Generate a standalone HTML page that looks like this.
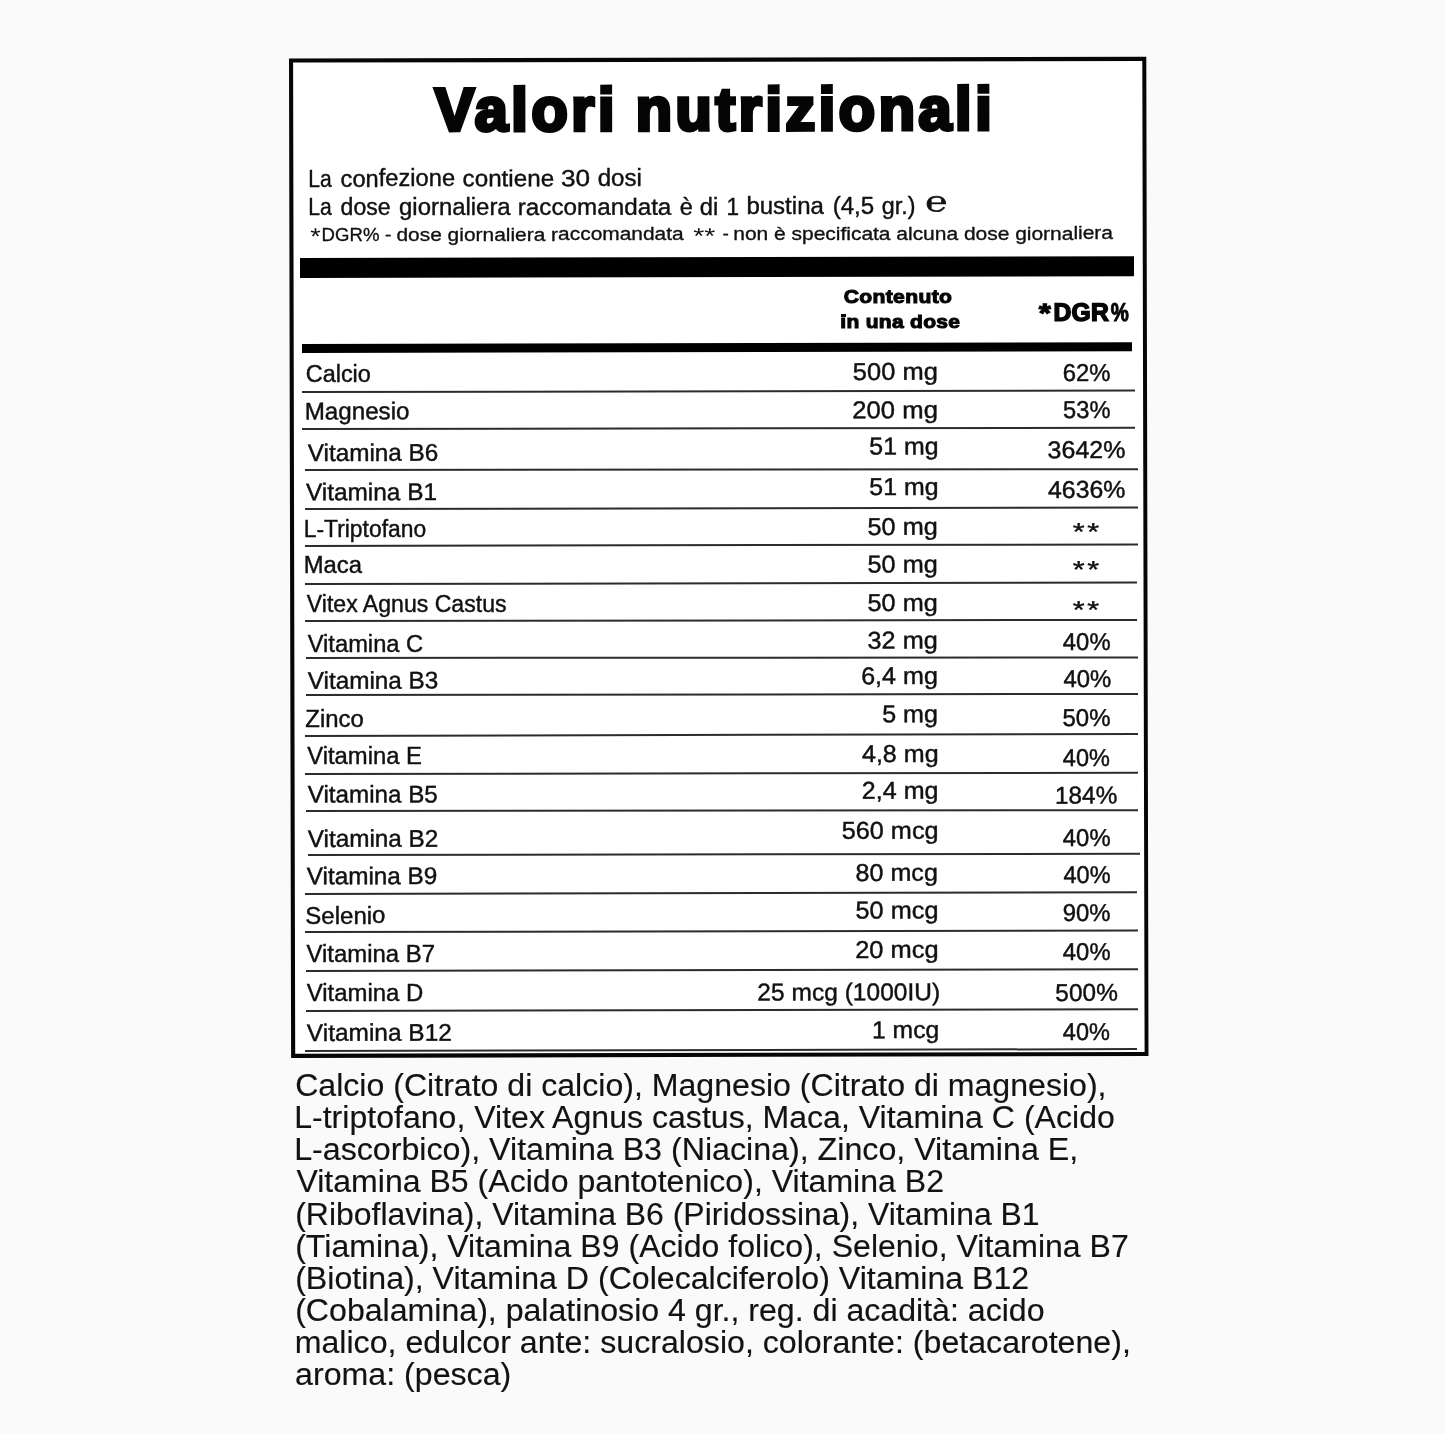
<!DOCTYPE html>
<html lang="it"><head><meta charset="utf-8"><title>Valori nutrizionali</title>
<style>
html,body{margin:0;padding:0;overflow:hidden}
body{width:1445px;height:1445px;position:relative;overflow:hidden;background:#fafafa;font-family:"Liberation Sans",sans-serif;}
.fr{position:absolute;left:0;top:0}
.r{position:absolute;transform-origin:0 0}
.t{position:absolute;left:0;top:0;margin:0;padding:0;font:400 100px/normal "Liberation Sans",sans-serif;color:#111;white-space:pre;transform-origin:0 0;display:block}
.b{font-weight:700}
.s{font-family:"Liberation Serif",serif}
#pg{position:absolute;left:0;top:0;width:1445px;height:1445px;overflow:hidden;will-change:transform}
</style></head><body><div id="pg">
<svg class="fr" width="1445" height="1445" viewBox="0 0 1445 1445"><path fill="#fff" d="M289 58.5L1146.3 56.8L1148.5 1055.9L291.1 1058Z"/><path fill="#060606" fill-rule="evenodd" d="M289 58.5L1146.3 56.8L1148.5 1055.9L291.1 1058Z M293.1 62.6L1142.3 60.9L1144.6 1051.9L295.2 1053.7Z"/></svg>
<div class="r" style="left:0.00px;top:1433.50px;width:1445.00px;height:11.50px;background:#fff;transform:rotate(0.00000rad);"></div>
<div class="r" style="left:841.00px;top:314.00px;width:4.70px;height:3.10px;background:#050505;transform:rotate(-0.00201rad);"></div>
<div class="r" style="left:300.00px;top:258.10px;width:834.40px;height:20.20px;background:#000;transform:rotate(-0.00201rad);"></div>
<div class="r" style="left:302.40px;top:343.90px;width:830.00px;height:9.10px;background:#000;transform:rotate(-0.00201rad);"></div>
<div class="r" style="left:301.80px;top:390.55px;width:832.70px;height:1.50px;background:#2c2c2c;transform:rotate(-0.00168rad);"></div>
<div class="r" style="left:302.00px;top:428.45px;width:832.50px;height:1.50px;background:#2c2c2c;transform:rotate(-0.00156rad);"></div>
<div class="r" style="left:305.30px;top:469.15px;width:832.50px;height:1.50px;background:#2c2c2c;transform:rotate(-0.00096rad);"></div>
<div class="r" style="left:305.30px;top:508.35px;width:832.50px;height:1.50px;background:#2c2c2c;transform:rotate(-0.00168rad);"></div>
<div class="r" style="left:305.00px;top:545.25px;width:833.20px;height:1.50px;background:#2c2c2c;transform:rotate(-0.00192rad);"></div>
<div class="r" style="left:305.00px;top:583.05px;width:832.40px;height:1.50px;background:#2c2c2c;transform:rotate(-0.00180rad);"></div>
<div class="r" style="left:305.30px;top:620.25px;width:832.10px;height:1.50px;background:#2c2c2c;transform:rotate(-0.00132rad);"></div>
<div class="r" style="left:305.80px;top:657.35px;width:832.40px;height:1.50px;background:#2c2c2c;transform:rotate(-0.00072rad);"></div>
<div class="r" style="left:305.80px;top:694.35px;width:832.40px;height:1.50px;background:#2c2c2c;transform:rotate(-0.00132rad);"></div>
<div class="r" style="left:305.00px;top:734.55px;width:833.00px;height:1.50px;background:#2c2c2c;transform:rotate(-0.00252rad);"></div>
<div class="r" style="left:305.30px;top:772.75px;width:832.70px;height:1.50px;background:#2c2c2c;transform:rotate(-0.00156rad);"></div>
<div class="r" style="left:305.80px;top:810.35px;width:832.20px;height:1.50px;background:#2c2c2c;transform:rotate(-0.00096rad);"></div>
<div class="r" style="left:308.30px;top:853.75px;width:831.70px;height:1.50px;background:#2c2c2c;transform:rotate(-0.00156rad);"></div>
<div class="r" style="left:305.30px;top:892.85px;width:832.10px;height:1.50px;background:#2c2c2c;transform:rotate(-0.00204rad);"></div>
<div class="r" style="left:305.30px;top:931.35px;width:832.50px;height:1.50px;background:#2c2c2c;transform:rotate(-0.00168rad);"></div>
<div class="r" style="left:305.80px;top:970.35px;width:832.40px;height:1.50px;background:#2c2c2c;transform:rotate(-0.00204rad);"></div>
<div class="r" style="left:305.80px;top:1010.25px;width:832.00px;height:1.50px;background:#2c2c2c;transform:rotate(-0.00204rad);"></div>
<div class="r" style="left:305.00px;top:1049.95px;width:832.10px;height:1.50px;background:#2c2c2c;transform:rotate(-0.00228rad);"></div>
<span class="t b" style="transform:matrix(0.59392,-0.00119,0.00121,0.60319,434.757,75.105);-webkit-text-stroke:6.30px #050505;color:#050505;letter-spacing:6.00px;word-spacing:-4.00px;">Valori nutrizionali</span>
<span class="t" style="transform:matrix(0.21087,-0.00042,0.00047,0.23262,308.189,165.236);-webkit-text-stroke:1.70px #111;">La</span>
<span class="t" style="transform:matrix(0.23671,-0.00048,0.00047,0.23262,340.519,165.172);-webkit-text-stroke:1.70px #111;">confezione</span>
<span class="t" style="transform:matrix(0.24235,-0.00049,0.00047,0.23262,462.506,164.928);-webkit-text-stroke:1.70px #111;">contiene</span>
<span class="t" style="transform:matrix(0.26184,-0.00053,0.00047,0.23262,560.861,164.731);-webkit-text-stroke:1.70px #111;">30</span>
<span class="t" style="transform:matrix(0.24112,-0.00048,0.00047,0.23262,597.609,164.658);-webkit-text-stroke:1.70px #111;">dosi</span>
<span class="t" style="transform:matrix(0.21087,-0.00042,0.00047,0.23262,308.189,193.936);-webkit-text-stroke:1.70px #111;">La</span>
<span class="t" style="transform:matrix(0.23040,-0.00046,0.00047,0.23262,340.533,193.872);-webkit-text-stroke:1.70px #111;">dose</span>
<span class="t" style="transform:matrix(0.23898,-0.00048,0.00047,0.23262,399.013,193.755);-webkit-text-stroke:1.70px #111;">giornaliera</span>
<span class="t" style="transform:matrix(0.24231,-0.00049,0.00047,0.23262,517.749,193.517);-webkit-text-stroke:1.70px #111;">raccomandata</span>
<span class="t" style="transform:matrix(0.23535,-0.00047,0.00047,0.23262,679.822,193.193);-webkit-text-stroke:1.70px #111;">è</span>
<span class="t" style="transform:matrix(0.23777,-0.00048,0.00047,0.23262,699.716,193.153);-webkit-text-stroke:1.70px #111;">di</span>
<span class="t" style="transform:matrix(0.22547,-0.00045,0.00047,0.23262,726.440,193.100);-webkit-text-stroke:1.70px #111;">1</span>
<span class="t" style="transform:matrix(0.24015,-0.00048,0.00047,0.23262,746.360,193.060);-webkit-text-stroke:1.70px #111;">bustina</span>
<span class="t" style="transform:matrix(0.24081,-0.00048,0.00047,0.23262,832.633,192.888);-webkit-text-stroke:1.70px #111;">(4,5</span>
<span class="t" style="transform:matrix(0.23353,-0.00047,0.00047,0.23262,881.826,192.789);-webkit-text-stroke:1.70px #111;">gr.)</span>
<span class="t" style="transform:matrix(0.26713,-0.00054,0.00047,0.23200,310.256,223.001);">*</span>
<span class="t" style="transform:matrix(0.18601,-0.00037,0.00036,0.18130,321.581,224.341);-webkit-text-stroke:1.80px #111;">DGR%</span>
<span class="t" style="transform:matrix(0.19039,-0.00038,0.00036,0.18130,384.843,224.339);-webkit-text-stroke:1.80px #111;">-</span>
<span class="t" style="transform:matrix(0.20920,-0.00042,0.00038,0.18838,396.400,223.488);-webkit-text-stroke:1.80px #111;">dose giornaliera raccomandata</span>
<span class="t" style="transform:matrix(0.28456,-0.00057,0.00045,0.22667,693.229,222.912);">**</span>
<span class="t" style="transform:matrix(0.19039,-0.00038,0.00036,0.18130,722.343,223.539);-webkit-text-stroke:1.80px #111;">-</span>
<span class="t" style="transform:matrix(0.20951,-0.00042,0.00038,0.18838,733.244,222.840);-webkit-text-stroke:1.80px #111;">non è specificata alcuna dose giornaliera</span>
<span class="t s" style="transform:matrix(0.36135,-0.00073,0.00057,0.28186,925.470,185.682);-webkit-text-stroke:2.50px #111;">℮</span>
<span class="t b" style="transform:matrix(0.21133,-0.00042,0.00038,0.19086,843.695,285.597);-webkit-text-stroke:5.60px #050505;color:#050505;letter-spacing:1.50px;">Contenuto</span>
<span class="t b" style="transform:matrix(0.20970,-0.00042,0.00038,0.18817,840.241,311.051);-webkit-text-stroke:5.60px #050505;color:#050505;letter-spacing:1.50px;">ın una dose</span>
<span class="t b" style="transform:matrix(0.30184,-0.00061,0.00053,0.26326,1038.922,297.810);-webkit-text-stroke:5.00px #050505;color:#050505;">*</span>
<span class="t b" style="transform:matrix(0.24678,-0.00050,0.00050,0.25134,1053.451,297.676);-webkit-text-stroke:6.00px #050505;color:#050505;letter-spacing:1.00px;">DGR</span>
<span class="t b" style="transform:matrix(0.20347,-0.00041,0.00052,0.25824,1110.741,297.183);-webkit-text-stroke:4.00px #050505;color:#050505;">%</span>
<span class="t" style="transform:matrix(0.23437,-0.00047,0.00048,0.24079,305.668,359.873);-webkit-text-stroke:1.80px #111;">Calcio</span>
<span class="t" style="transform:matrix(0.24201,-0.00049,0.00048,0.24079,304.583,397.275);-webkit-text-stroke:1.80px #111;">Magnesio</span>
<span class="t" style="transform:matrix(0.24294,-0.00049,0.00048,0.24079,307.674,438.871);-webkit-text-stroke:1.80px #111;">Vitamina B6</span>
<span class="t" style="transform:matrix(0.24369,-0.00049,0.00048,0.24079,305.975,478.171);-webkit-text-stroke:1.80px #111;">Vitamina B1</span>
<span class="t" style="transform:matrix(0.22859,-0.00046,0.00048,0.24079,303.675,514.774);-webkit-text-stroke:1.80px #111;">L-Triptofano</span>
<span class="t" style="transform:matrix(0.23834,-0.00048,0.00048,0.24079,303.608,551.274);-webkit-text-stroke:1.80px #111;">Maca</span>
<span class="t" style="transform:matrix(0.23082,-0.00046,0.00048,0.24079,306.763,589.971);-webkit-text-stroke:1.80px #111;">Vitex Agnus Castus</span>
<span class="t" style="transform:matrix(0.23703,-0.00048,0.00048,0.24079,307.669,629.971);-webkit-text-stroke:1.80px #111;">Vitamina C</span>
<span class="t" style="transform:matrix(0.24294,-0.00049,0.00048,0.24079,307.674,666.671);-webkit-text-stroke:1.80px #111;">Vitamina B3</span>
<span class="t" style="transform:matrix(0.23959,-0.00048,0.00048,0.24079,305.222,704.872);-webkit-text-stroke:1.80px #111;">Zinco</span>
<span class="t" style="transform:matrix(0.23824,-0.00048,0.00048,0.24079,307.170,742.271);-webkit-text-stroke:1.80px #111;">Vitamina E</span>
<span class="t" style="transform:matrix(0.24201,-0.00049,0.00048,0.24079,307.673,780.471);-webkit-text-stroke:1.80px #111;">Vitamina B5</span>
<span class="t" style="transform:matrix(0.24294,-0.00049,0.00048,0.24079,307.674,824.771);-webkit-text-stroke:1.80px #111;">Vitamina B2</span>
<span class="t" style="transform:matrix(0.24276,-0.00049,0.00048,0.24079,306.774,862.171);-webkit-text-stroke:1.80px #111;">Vitamina B9</span>
<span class="t" style="transform:matrix(0.24039,-0.00048,0.00048,0.24079,305.221,901.472);-webkit-text-stroke:1.80px #111;">Selenio</span>
<span class="t" style="transform:matrix(0.23902,-0.00048,0.00048,0.24079,306.471,939.871);-webkit-text-stroke:1.80px #111;">Vitamina B7</span>
<span class="t" style="transform:matrix(0.23888,-0.00048,0.00048,0.24079,306.771,979.271);-webkit-text-stroke:1.80px #111;">Vitamina D</span>
<span class="t" style="transform:matrix(0.24462,-0.00049,0.00048,0.24079,306.776,1018.771);-webkit-text-stroke:1.80px #111;">Vitamina B12</span>
<span class="t" style="transform:matrix(0.25535,-0.00051,0.00049,0.24363,852.687,357.512);-webkit-text-stroke:1.80px #111;">500 mg</span>
<span class="t" style="transform:matrix(0.25658,-0.00051,0.00049,0.24363,852.283,395.813);-webkit-text-stroke:1.80px #111;">200 mg</span>
<span class="t" style="transform:matrix(0.24909,-0.00050,0.00049,0.24363,869.301,432.112);-webkit-text-stroke:1.80px #111;">51 mg</span>
<span class="t" style="transform:matrix(0.24909,-0.00050,0.00049,0.24363,869.301,472.612);-webkit-text-stroke:1.80px #111;">51 mg</span>
<span class="t" style="transform:matrix(0.25315,-0.00051,0.00049,0.24363,867.492,512.512);-webkit-text-stroke:1.80px #111;">50 mg</span>
<span class="t" style="transform:matrix(0.25315,-0.00051,0.00049,0.24363,867.492,550.112);-webkit-text-stroke:1.80px #111;">50 mg</span>
<span class="t" style="transform:matrix(0.25315,-0.00051,0.00049,0.24363,867.492,588.612);-webkit-text-stroke:1.80px #111;">50 mg</span>
<span class="t" style="transform:matrix(0.25315,-0.00051,0.00049,0.24363,867.492,626.212);-webkit-text-stroke:1.80px #111;">32 mg</span>
<span class="t" style="transform:matrix(0.25100,-0.00050,0.00049,0.24363,861.104,661.713);-webkit-text-stroke:1.80px #111;">6,4 mg</span>
<span class="t" style="transform:matrix(0.25073,-0.00050,0.00049,0.24363,882.097,699.812);-webkit-text-stroke:1.80px #111;">5 mg</span>
<span class="t" style="transform:matrix(0.25072,-0.00050,0.00049,0.24363,861.889,739.611);-webkit-text-stroke:1.80px #111;">4,8 mg</span>
<span class="t" style="transform:matrix(0.25100,-0.00050,0.00049,0.24363,861.804,776.413);-webkit-text-stroke:1.80px #111;">2,4 mg</span>
<span class="t" style="transform:matrix(0.25278,-0.00051,0.00049,0.24363,841.593,816.412);-webkit-text-stroke:1.80px #111;">560 mcg</span>
<span class="t" style="transform:matrix(0.25110,-0.00050,0.00049,0.24363,855.496,858.512);-webkit-text-stroke:1.80px #111;">80 mcg</span>
<span class="t" style="transform:matrix(0.25328,-0.00051,0.00049,0.24363,855.492,896.112);-webkit-text-stroke:1.80px #111;">50 mcg</span>
<span class="t" style="transform:matrix(0.25452,-0.00051,0.00049,0.24363,855.091,935.513);-webkit-text-stroke:1.80px #111;">20 mcg</span>
<span class="t" style="transform:matrix(0.24541,-0.00049,0.00049,0.24363,757.326,978.113);-webkit-text-stroke:1.80px #111;">25 mcg (1000IU)</span>
<span class="t" style="transform:matrix(0.24747,-0.00050,0.00049,0.24363,871.831,1015.713);-webkit-text-stroke:1.80px #111;">1 mcg</span>
<span class="t" style="transform:matrix(0.23934,-0.00048,0.00049,0.24363,1062.649,358.613);-webkit-text-stroke:1.80px #111;">62%</span>
<span class="t" style="transform:matrix(0.23743,-0.00048,0.00049,0.24363,1063.027,395.812);-webkit-text-stroke:1.80px #111;">53%</span>
<span class="t" style="transform:matrix(0.25043,-0.00050,0.00049,0.24363,1047.498,435.712);-webkit-text-stroke:1.80px #111;">3642%</span>
<span class="t" style="transform:matrix(0.24916,-0.00050,0.00049,0.24363,1047.890,475.511);-webkit-text-stroke:1.80px #111;">4636%</span>
<span class="t" style="transform:matrix(0.30704,-0.00062,0.00050,0.24872,1072.821,517.342);-webkit-text-stroke:1.50px #111;letter-spacing:8.00px;">**</span>
<span class="t" style="transform:matrix(0.30704,-0.00062,0.00048,0.23846,1072.822,555.646);-webkit-text-stroke:1.50px #111;letter-spacing:8.00px;">**</span>
<span class="t" style="transform:matrix(0.30704,-0.00062,0.00049,0.24359,1072.822,595.544);-webkit-text-stroke:1.50px #111;letter-spacing:8.00px;">**</span>
<span class="t" style="transform:matrix(0.23859,-0.00048,0.00049,0.24363,1062.797,627.411);-webkit-text-stroke:1.80px #111;">40%</span>
<span class="t" style="transform:matrix(0.23910,-0.00048,0.00049,0.24363,1063.397,665.011);-webkit-text-stroke:1.80px #111;">40%</span>
<span class="t" style="transform:matrix(0.24050,-0.00048,0.00049,0.24363,1062.420,703.312);-webkit-text-stroke:1.80px #111;">50%</span>
<span class="t" style="transform:matrix(0.23556,-0.00047,0.00049,0.24363,1062.799,743.211);-webkit-text-stroke:1.80px #111;">40%</span>
<span class="t" style="transform:matrix(0.24362,-0.00049,0.00049,0.24363,1054.952,781.213);-webkit-text-stroke:1.80px #111;">184%</span>
<span class="t" style="transform:matrix(0.23859,-0.00048,0.00049,0.24363,1062.797,823.511);-webkit-text-stroke:1.80px #111;">40%</span>
<span class="t" style="transform:matrix(0.23556,-0.00047,0.00049,0.24363,1063.399,860.211);-webkit-text-stroke:1.80px #111;">40%</span>
<span class="t" style="transform:matrix(0.23934,-0.00048,0.00049,0.24363,1062.649,898.813);-webkit-text-stroke:1.80px #111;">90%</span>
<span class="t" style="transform:matrix(0.23859,-0.00048,0.00049,0.24363,1062.797,937.511);-webkit-text-stroke:1.80px #111;">40%</span>
<span class="t" style="transform:matrix(0.24457,-0.00049,0.00049,0.24363,1055.311,978.512);-webkit-text-stroke:1.80px #111;">500%</span>
<span class="t" style="transform:matrix(0.23556,-0.00047,0.00049,0.24363,1062.799,1017.911);-webkit-text-stroke:1.80px #111;">40%</span>
<span class="t" style="transform:matrix(0.32085,0.00000,-0.00000,0.31457,295.176,1067.095);-webkit-text-stroke:0.50px #121212;color:#121212;">Calcio (Citrato di calcio), Magnesio (Citrato di magnesio),</span>
<span class="t" style="transform:matrix(0.32074,0.00000,-0.00000,0.31457,294.174,1099.215);-webkit-text-stroke:0.50px #121212;color:#121212;">L-triptofano, Vitex Agnus castus, Maca, Vitamina C (Acido</span>
<span class="t" style="transform:matrix(0.32180,0.00000,-0.00000,0.31457,294.166,1131.335);-webkit-text-stroke:0.50px #121212;color:#121212;">L-ascorbico), Vitamina B3 (Niacina), Zinco, Vitamina E,</span>
<span class="t" style="transform:matrix(0.32066,0.00000,-0.00000,0.31457,296.380,1163.455);-webkit-text-stroke:0.50px #121212;color:#121212;">Vitamina B5 (Acido pantotenico), Vitamina B2</span>
<span class="t" style="transform:matrix(0.31941,0.00000,-0.00000,0.31457,295.183,1195.575);-webkit-text-stroke:0.50px #121212;color:#121212;">(Riboflavina), Vitamina B6 (Piridossina), Vitamina B1</span>
<span class="t" style="transform:matrix(0.32072,0.00000,-0.00000,0.31457,295.177,1227.695);-webkit-text-stroke:0.50px #121212;color:#121212;">(Tiamina), Vitamina B9 (Acido folico), Selenio, Vitamina B7</span>
<span class="t" style="transform:matrix(0.32108,0.00000,-0.00000,0.31457,295.175,1259.815);-webkit-text-stroke:0.50px #121212;color:#121212;">(Biotina), Vitamina D (Colecalciferolo) Vitamina B12</span>
<span class="t" style="transform:matrix(0.32096,0.00000,-0.00000,0.31457,295.176,1291.935);-webkit-text-stroke:0.50px #121212;color:#121212;">(Cobalamina), palatinosio 4 gr., reg. di acadità: acido</span>
<span class="t" style="transform:matrix(0.32143,0.00000,-0.00000,0.31457,294.671,1324.055);-webkit-text-stroke:0.50px #121212;color:#121212;">malico, edulcor ante: sucralosio, colorante: (betacarotene),</span>
<span class="t" style="transform:matrix(0.32152,0.00000,-0.00000,0.31457,295.076,1356.175);-webkit-text-stroke:0.50px #121212;color:#121212;">aroma: (pesca)</span>
</div></body></html>
